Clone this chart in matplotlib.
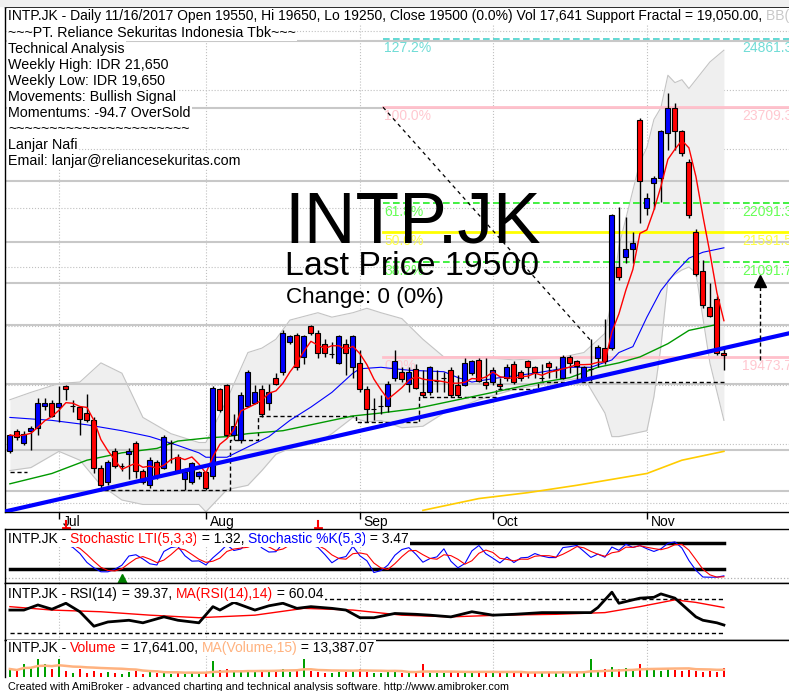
import numpy as np
import pandas as pd
import matplotlib
matplotlib.use("Agg")
import matplotlib.pyplot as plt
from matplotlib.font_manager import FontProperties
from matplotlib.transforms import blended_transform_factory

FAMILY = ["Liberation Sans", "DejaVu Sans"]
plt.rcParams["font.family"] = FAMILY

# ---- daily bars, INTP.JK ----
opens = [17875, 18225, 18025, 18225, 18275, 18650, 18700, 18625, 18975, 18650,
         18625, 18525, 18400, 17600, 17350, 17875, 17625, 17825, 18025, 17550,
         17300, 17700, 17600, 18025, 17775, 17400, 17350, 17450, 17525, 17450,
         18925, 19000, 18150, 18075, 18650, 18700, 18925, 18700, 19125, 19225,
         19725, 19850, 19475, 20000, 19875, 19700, 19525, 19375, 19700, 19300,
         19375, 18925, 18600, 18650, 18650, 19125, 19225, 19025, 19275, 18875,
         18875, 19075, 19125, 19250, 19000, 19000, 19200, 19425, 19050, 19050,
         19025, 19125, 19350, 19225, 19400, 19300, 19125, 19375, 19250, 19125,
         19475, 19400, 19125, 19275, 19450, 19625, 19625, 21000, 21175, 21300,
         23500, 22000, 22425, 22500, 23275, 23700, 23300, 22775, 21600, 20925,
         20325, 20450, 19550]
highs = [18175, 18250, 18225, 18300, 18775, 18775, 18750, 18975, 19000, 18750,
         18650, 18850, 18450, 17650, 17725, 17925, 17675, 17925, 18050, 17575,
         17775, 17725, 18150, 18075, 17825, 17600, 17700, 17550, 17550, 18975,
         18950, 19025, 18500, 18875, 19250, 19000, 19000, 19025, 19200, 19925,
         19850, 19875, 19850, 20025, 19925, 19775, 19725, 19850, 19775, 19850,
         19600, 18975, 18775, 18825, 19075, 19600, 19300, 19300, 19350, 19250,
         19325, 19250, 19225, 19300, 19175, 19450, 19425, 19450, 19450, 19300,
         19125, 19350, 19400, 19250, 19425, 19325, 19350, 19400, 19325, 19500,
         19500, 19425, 19325, 19775, 19675, 20125, 21900, 22025, 21850, 21600,
         23525, 22250, 22550, 23325, 23950, 23775, 23325, 22825, 21650, 21125,
         20725, 20500, 19650]
lows = [17850, 18075, 17975, 17900, 18150, 18575, 18450, 18375, 18750, 18550,
        18150, 18375, 17500, 17225, 17300, 17600, 17550, 17400, 17425, 17325,
        17250, 17400, 17575, 17675, 17500, 17225, 17325, 17400, 17225, 17400,
        18550, 18125, 18075, 18025, 18625, 18675, 18450, 18575, 19000, 19175,
        19700, 19250, 19350, 19850, 19450, 19475, 19450, 19350, 19175, 19125,
        18875, 18375, 18400, 18500, 18550, 19075, 19050, 18875, 18925, 18800,
        18825, 18875, 18875, 18800, 18800, 18975, 19175, 19050, 18925, 19000,
        18925, 19075, 19025, 19075, 19125, 19125, 19075, 19125, 19125, 19100,
        19200, 19075, 19100, 19075, 19300, 19350, 19600, 20775, 21075, 21075,
        21750, 21875, 21975, 22100, 22975, 22975, 22875, 21825, 20850, 20300,
        20150, 19500, 19250]
closes = [18150, 18125, 18175, 18275, 18700, 18700, 18475, 18700, 18925, 18650,
          18425, 18400, 17600, 17300, 17700, 17625, 17625, 17875, 17550, 17350,
          17725, 17450, 18125, 18025, 17550, 17525, 17675, 17525, 17250, 18950,
          18575, 18150, 18300, 18825, 19225, 18875, 18500, 18875, 19025, 19875,
          19825, 19300, 19825, 19875, 19550, 19550, 19525, 19825, 19550, 19825,
          18925, 18600, 18600, 18650, 19025, 19400, 19100, 19225, 18950, 18825,
          19300, 19075, 19125, 18825, 18825, 19375, 19400, 19075, 19000, 19250,
          18975, 19300, 19050, 19125, 19300, 19225, 19125, 19300, 19250, 19475,
          19375, 19325, 19300, 19275, 19650, 19400, 21875, 20825, 21300, 21400,
          22450, 22175, 22500, 23300, 23700, 23300, 22925, 21875, 20875, 20350,
          20175, 19550, 19500]
volumes = [16000, 12000, 26000, 20000, 36000, 26000, 16000, 36000, 12000, 8000,
           16000, 8000, 12000, 8000, 10000, 8000, 6000, 10000, 12000, 6000,
           10000, 8000, 12000, 6000, 8000, 6000, 10000, 8000, 10000, 32000,
           14000, 16000, 12000, 12000, 14000, 10000, 12000, 12000, 10000, 16000,
           10000, 14000, 36000, 12000, 10000, 8000, 8000, 10000, 10000, 12000,
           16000, 10000, 8000, 8000, 10000, 12000, 8000, 10000, 8000, 26000,
           8000, 8000, 8000, 10000, 8000, 12000, 8000, 10000, 8000, 10000,
           8000, 10000, 10000, 8000, 8000, 10000, 8000, 10000, 8000, 12000,
           10000, 10000, 12000, 36000, 14000, 16000, 20000, 16000, 18000, 14000,
           26000, 16000, 14000, 12000, 16000, 14000, 12000, 14000, 12000, 10000,
           12000, 10000, 17641]

month_idx = [7, 28, 50, 69, 91]
month_lbl = ["Jul", "Aug", "Sep", "Oct", "Nov"]

# overlays read at sample bars
ma20_idx = [0, 6, 11, 16, 20, 24, 27, 28, 31, 34, 37, 40, 43, 46, 49, 50, 53, 57, 62, 64,
            66, 70, 75, 80, 83, 86, 87, 89, 91, 93, 95, 97, 99, 102]
ma20_val = [18450, 18400, 18325, 18225, 18125, 17975, 17850, 17775, 17775, 17950,
            18125, 18400, 18625, 18875, 19200, 19275, 19300, 19250, 19225, 19125,
            19050, 19125, 19200, 19300, 19300, 19425, 19550, 19650, 20150, 20600,
            20900, 21150, 21250, 21325]
ma50_idx = [0, 6, 11, 16, 21, 24, 28, 31, 34, 39, 44, 49, 53, 58, 64, 69, 75, 80, 84, 87,
            90, 94, 97, 99, 101]
ma50_val = [17325, 17500, 17725, 17850, 17925, 18050, 18100, 18125, 18175, 18225,
            18350, 18475, 18525, 18600, 18750, 18875, 19025, 19125, 19300, 19375,
            19475, 19700, 19925, 19975, 20025]
ma200_idx = [59, 67, 74, 81, 86, 91, 96, 102]
ma200_val = [16875, 17075, 17175, 17300, 17400, 17500, 17725, 17875]

bb_idx = [0, 3, 7, 10, 13, 16, 19, 23, 27, 28, 31, 34, 36, 38, 40, 44, 46, 49, 51, 53,
          56, 59, 62, 67, 72, 79, 82, 85, 86, 87, 90, 91, 92, 93, 94, 95, 96, 97, 98, 100, 102]
bb_up = [18750, 18875, 19025, 19050, 19375, 19200, 18450, 18175, 18025, 18025,
         18750, 19550, 19625, 19775, 20100, 20225, 20150, 20225, 20300, 20225,
         20125, 19775, 19475, 19475, 19425, 19475, 19550, 19875, 20450, 21350,
         22775, 23025, 23500, 23700, 24250, 24125, 24175, 24025, 24175, 24475, 24675]
bb_lo = [17550, 17600, 17875, 17725, 17300, 17050, 16975, 16975, 16975, 16850,
         17225, 17300, 17550, 17825, 17925, 18025, 18175, 18450, 18375, 18400,
         18275, 18300, 18525, 18750, 18925, 19075, 19125, 18525, 18125, 18125,
         18200, 18225, 18800, 19650, 20775, 20875, 20950, 21000, 20900, 19375, 18400]

# RSI(14) and its 14-bar average, read at sample bars
rsi_idx = [0, 2, 4, 6, 8, 10, 12, 14, 17, 19, 22, 24, 27, 29, 30, 32, 35, 37, 39, 41,
           43, 46, 48, 50, 52, 55, 58, 60, 63, 66, 69, 72, 76, 80, 83, 84, 86, 87, 90, 92,
           93, 95, 98, 99, 101, 102]
rsi_val = [57, 57, 63, 58, 65, 55, 38, 43, 45, 42, 49, 45, 42, 61, 57, 66, 57, 62, 65, 59,
           61, 59, 57, 48, 48, 53, 52, 51, 49, 55, 51, 52, 54, 54, 54, 60, 78, 65, 71, 72,
           76, 71, 49, 45, 42, 39.4]
rsima_idx = [0, 6, 13, 20, 27, 35, 42, 49, 56, 63, 70, 78, 85, 90, 95, 98, 102]
rsima_val = [61, 57, 55, 51, 48, 51, 59, 57, 51, 49, 51, 52, 54, 61, 69, 66, 60]

# support fractal steps: (first bar, last bar, level)
support_steps = [(0, 2, 17525), (13, 31, 17225), (32, 35, 18075), (36, 49, 18475),
                 (50, 58, 18375), (59, 69, 18800), (70, 75, 18925), (76, 102, 19050)]

trend_pts = [(13, 17225), (102, 19625)]
gray_levels = [24825, 23700, 22450, 21425, 20725, 20025, 19025, 17900, 17200]

fib_start = 53.3
fib_pct = ["127.2%", "100.0%", "61.8%", "50.0%", "38.2%", "0.0%"]
fib_val = [24861.3, 23709.3, 22091.3, 21591.5, 21091.7, 19473.7]
fib_col = ["#48D1CC", "#FFC0CB", "#22EE22", "#FFFF00", "#22EE22", "#FFC0CB"]
fib_txt = ["#70DCD6", "#FFC8D0", "#66FF55", "#FFFF44", "#66FF55", "#FFC8D0"]
fib_ls = [(0, (4, 2)), "-", (0, (4, 2)), "-", (0, (4, 2)), "-"]
fib_diag = [(53.3, 23709), (83, 19750)]
target_arrow = (107.1, 19425, 20875)

sell_idx = [8, 44]
buy_idx = [16]

# ---- indicators from the bars ----
o = pd.Series(opens, dtype=float)
h = pd.Series(highs, dtype=float)
l = pd.Series(lows, dtype=float)
c = pd.Series(closes, dtype=float)
v = pd.Series(volumes, dtype=float)
n = len(c)
idx = np.arange(n)

ma5 = c.rolling(5, min_periods=1).mean()
hh = h.rolling(5, min_periods=1).max()
ll = l.rolling(5, min_periods=1).min()
raw = 100 * (c - ll) / (hh - ll)
stoch_k = raw.rolling(3, min_periods=1).mean()
stoch_lti = stoch_k.rolling(3, min_periods=1).mean()
vol_ma = v.rolling(15, min_periods=1).mean()

# ---- figure ----
W, H = 789, 691
fig = plt.figure(figsize=(W / 100, H / 100), dpi=100, facecolor="white")


def fx(px):
    return px / W


def fy(py):
    return 1 - py / H


XLIM = (-0.7, 111.3)


def panel(top, bottom):
    a = fig.add_axes([fx(5), fy(bottom), 1 - fx(5), (bottom - top) / H])
    a.set_xlim(*XLIM)
    a.spines["right"].set_visible(False)
    for s in ["left", "top", "bottom"]:
        a.spines[s].set_linewidth(1)
    a.set_xticks(month_idx)
    a.grid(axis="x", ls=":", color="#C0C0C0", lw=0.8)
    a.tick_params(left=False, labelleft=False, bottom=False, labelbottom=False)
    a.set_axisbelow(True)
    return a


fig.patches.append(plt.Rectangle((0, fy(6)), 1, 1 - fy(6), transform=fig.transFigure,
                                 color="#F0F0F0", zorder=0))

# main price pane
ax = panel(7, 512)
ax.set_ylim(16847, 25407)
ax.set_yticks(np.arange(17000, 25001, 1000))
ax.grid(axis="y", ls=":", color="#C0C0C0", lw=0.8)
ax.tick_params(bottom=True, length=5, width=1, direction="out")

ax.fill_between(bb_idx, bb_lo, bb_up, color="#EFEFEF", zorder=1, lw=0)
ax.plot(bb_idx, bb_up, color="#C4C4C4", lw=0.8, zorder=1.2)
ax.plot(bb_idx, bb_lo, color="#C4C4C4", lw=0.8, zorder=1.2)

for g in gray_levels:
    ax.axhline(g, color="#C8C8C8", lw=1.5, zorder=1.5)

for val, col, ls in zip(fib_val, fib_col, fib_ls):
    ax.plot([fib_start, XLIM[1] + 2], [val, val], color=col, ls=ls,
            lw=2 if ls == "-" else 1.2, zorder=1.6)
for lab, val, col in zip(fib_pct, fib_val, fib_txt):
    ax.text(fib_start + 0.2, val - 35, lab, color=col, fontsize=10, va="top", ha="left", zorder=1.7)
    ax.text(104.6, val - 35, f"{val:.1f}", color=col, fontsize=10, va="top", ha="left", zorder=1.7)

ax.plot([p[0] for p in fib_diag], [p[1] for p in fib_diag], color="black",
        ls=(0, (3, 3)), lw=0.9, zorder=2)

sup = np.full(n, np.nan)
for a0, a1, lev in support_steps:
    sup[a0:a1 + 1] = lev
ax.plot(idx, sup, drawstyle="steps-mid", color="black", ls=(0, (3, 2)), lw=1, zorder=2)

ax.plot(ma200_idx, ma200_val, color="#FFCC00", lw=1.2, zorder=2.5)
ax.plot(ma50_idx, ma50_val, color="#009900", lw=1, zorder=2.5)
ax.plot(ma20_idx, ma20_val, color="#0000FF", lw=0.8, zorder=2.5)

# candles
body_col = np.where(c > o, "#0000FF", "#FF0000")
ax.vlines(idx, l, h, color="black", lw=1, zorder=3)
ax.bar(idx, (c - o).abs(), bottom=np.minimum(o, c), width=0.72, color=body_col,
       edgecolor="black", lw=0.8, zorder=3.1)

ax.plot(idx, ma5, color="#FF0000", lw=1, zorder=3.5)
ax.axline(trend_pts[0], trend_pts[1], color="#0000FF", lw=3, zorder=4)

ta_x, ta_y0, ta_y1 = target_arrow
ax.plot([ta_x, ta_x], [ta_y0, ta_y1 - 150], color="black", ls=(0, (3, 2)), lw=1, zorder=4)
ax.plot([ta_x], [ta_y1 - 120], marker="^", ms=8, color="black", zorder=4)

btr = blended_transform_factory(ax.transData, ax.transAxes)
for i, lab in zip(month_idx, month_lbl):
    ax.text(i + 0.55, -0.006, lab, transform=btr, fontsize=10, va="top", ha="left")

fig.text(fx(284), fy(242), "INTP.JK", fontsize=51.5, va="baseline", ha="left", zorder=5)
fig.text(fx(285), fy(275), "Last Price 19500", fontsize=24.4, va="baseline", ha="left", zorder=5)
fig.text(fx(286), fy(303), "Change: 0 (0%)", fontsize=16.2, va="baseline", ha="left", zorder=5)

# stochastic pane
ax_st = panel(529, 583)
ax_st.set_ylim(-12.3, 112.4)
ax_st.axhline(0, color="#B0B0B0", ls=":", lw=0.9)
ax_st.plot([0, n - 1], [80, 80], color="black", lw=2.5)
ax_st.plot([0, n - 1], [20, 20], color="black", lw=2.5)
ax_st.plot(idx, stoch_k, color="#0000FF", lw=0.8)
ax_st.plot(idx, stoch_lti, color="#FF0000", lw=0.8)
sig_tr = blended_transform_factory(ax_st.transData, fig.transFigure)
for i in sell_idx:
    ax_st.plot([i, i], [fy(521), fy(528)], color="#FF0000", lw=1.5, transform=sig_tr, clip_on=False)
    ax_st.plot([i - 0.45, i + 0.45], [fy(528), fy(528)], color="#FF0000", lw=2, transform=sig_tr,
               clip_on=False)
for i in buy_idx:
    ax_st.plot([i], [fy(579)], marker="^", ms=7, color="#008000", transform=sig_tr, clip_on=False)

# RSI pane
ax_r = panel(583, 640)
ax_r.set_ylim(21.8, 88.8)
ax_r.plot([0, n - 1], [70, 70], color="black", ls=(0, (3, 2)), lw=1)
ax_r.plot([0, n - 1], [30, 30], color="black", ls=(0, (3, 2)), lw=1)
ax_r.plot(rsima_idx, rsima_val, color="#FF0000", lw=1)
ax_r.plot(rsi_idx, rsi_val, color="black", lw=2)

# volume pane
ax_v = panel(640, 677)
ax_v.spines["bottom"].set_visible(False)
ax_v.set_ylim(0, 74000)
vcol = np.where(c >= o, "#00A000", "#FF0000")
ax_v.bar(idx, v, width=0.35, color=vcol, lw=0)
ax_v.plot(idx, vol_ma, color="#FFB27F", lw=1.8)

# ---- texts ----
renderer = fig.canvas.get_renderer()


def width_px(s, size):
    prop = FontProperties(family=FAMILY, size=size)
    w1 = renderer.get_text_width_height_descent(s + "l", prop, ismath=False)[0]
    w2 = renderer.get_text_width_height_descent("l", prop, ismath=False)[0]
    return w1 - w2


def parts_text(x_px, y_px, parts, size=10):
    x = x_px
    for s, col in parts:
        fig.text(fx(x), fy(y_px), s, color=col, fontsize=size, va="center", ha="left",
                 bbox=dict(facecolor="white", edgecolor="none", pad=1), zorder=6)
        x += width_px(s, size)


parts_text(8, 16, [("INTP.JK - Daily 11/16/2017 Open 19550, Hi 19650, Lo 19250, Close 19500 (0.0%) "
                    "Vol 17,641 Support Fractal = 19,050.00, ", "black"),
                   ("BB(20,2) Top = 24,678.92", "#C8C8C8")])
info = ["~~~PT. Reliance Sekuritas Indonesia Tbk~~~",
        "Technical Analysis",
        "Weekly High: IDR 21,650",
        "Weekly Low: IDR 19,650",
        "Movements: Bullish Signal",
        "Momentums: -94.7 OverSold",
        "~~~~~~~~~~~~~~~~~~~~~~",
        "Lanjar Nafi",
        "Email: lanjar@reliancesekuritas.com"]
for k, s in enumerate(info):
    parts_text(8, 33 + 16 * k, [(s, "black")], size=10.3)

parts_text(8, 539, [("INTP.JK - ", "black"), ("Stochastic LTI(5,3,3)", "#FF0000"),
                    (" = 1.32, ", "black"), ("Stochastic %K(5,3)", "#0000FF"),
                    (" = 3.47", "black")])
parts_text(8, 594, [("INTP.JK - ", "black"), ("RSI(14)", "black"), (" = 39.37, ", "black"),
                    ("MA(RSI(14),14)", "#FF0000"), (" = 60.04", "black")])
parts_text(8, 648, [("INTP.JK - ", "black"), ("Volume", "#FF0000"), (" = 17,641.00, ", "black"),
                    ("MA(Volume,15)", "#FFB27F"), (" = 13,387.07", "black")])

fig.text(fx(8), fy(687), "Created with AmiBroker - advanced charting and technical analysis software. "
         "http://www.amibroker.com", fontsize=7.8, va="center", ha="left")

fig.savefig("out.png", dpi=100, facecolor="white")
